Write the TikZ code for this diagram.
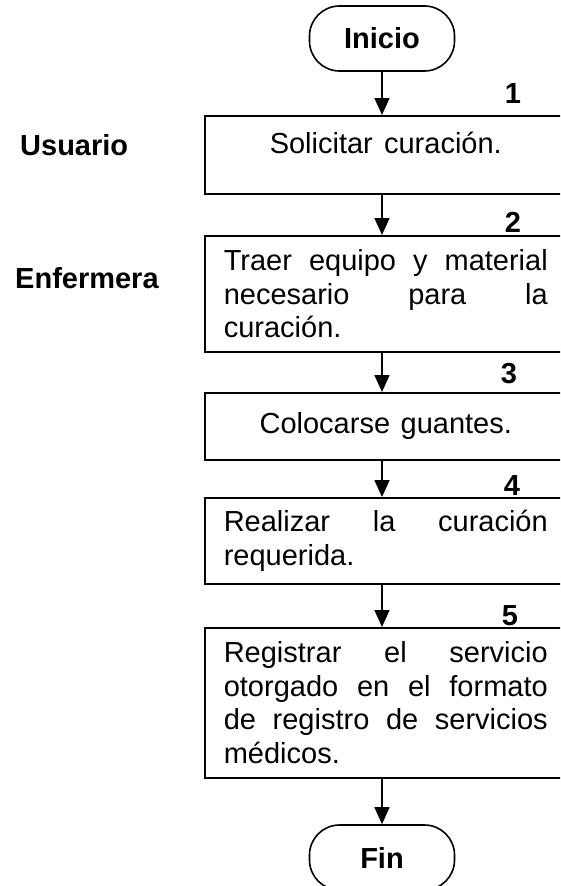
\documentclass[tikz,border=0pt]{standalone}
\usepackage{fontspec}
\setmainfont{Liberation Sans}
\usetikzlibrary{arrows.meta}
\newcommand{\jline}[1]{{\spaceskip=0pt\xspaceskip=0pt\makebox[324pt][s]{#1}}}
\newcommand{\nsp}[1]{{\spaceskip=0pt\xspaceskip=0pt #1}}
\begin{document}
\begin{tikzpicture}[x=1pt,y=-1pt,
  every node/.style={font=\fontsize{29}{33.5}\selectfont},
  term/.style={draw, line width=1.6pt, rounded corners=30pt, minimum width=145pt,
    minimum height=65pt, inner sep=0pt, font=\fontsize{29}{33.5}\selectfont\bfseries},
  box/.style={draw, line width=1.6pt, minimum width=362pt, text width=324pt,
    inner xsep=19pt, inner ysep=0pt, align=left, anchor=north west},
  num/.style={font=\fontsize{29}{33.5}\selectfont\bfseries, anchor=base, inner sep=0pt},
  lane/.style={font=\fontsize{29}{33.5}\selectfont\bfseries, anchor=base west, inner sep=0pt},
  arr/.style={line width=1.6pt, -{Triangle[length=17pt,width=15pt]}}]
\useasboundingbox (0,0) rectangle (560,886);
\clip (0,0) rectangle (560,886);

\node[term] (ini) at (382,38.5) {Inicio};

\node[box, align=center, minimum height=78pt, text depth=24pt] (b1) at (204,115)
  {\nsp{Solicitar curación.}};
\node[box, minimum height=116pt] (b2) at (204,235)
  {\jline{Traer equipo y material}\\ \jline{necesario para la}\\ curación.};
\node[box, align=center, minimum height=67pt] (b3) at (204,392)
  {\nsp{Colocarse guantes.}};
\node[box, minimum height=86pt] (b4) at (204,497)
  {\jline{Realizar la curación}\\ requerida.};
\node[box, minimum height=150pt] (b5) at (204,627)
  {\jline{Registrar el servicio}\\ \jline{otorgado en el formato}\\ \jline{de registro de servicios}\\ médicos.};

\node[term] (fin) at (382,857.5) {Fin};

\node[num] (n1) at (513,103) {1};
\node[num] (n2) at (513,232) {2};
\node[num] (n3) at (509,383) {3};
\node[num] (n4) at (512,495) {4};
\node[num] (n5) at (510,625) {5};

\node[lane] (usr) at (20,155) {Usuario};
\node[lane] (enf) at (15,288) {Enfermera};

\draw[arr] (ini.south) -- (ini.south |- b1.north);
\draw[arr] (ini.south |- b1.south) -- (ini.south |- b2.north);
\draw[arr] (ini.south |- b2.south) -- (ini.south |- b3.north);
\draw[arr] (ini.south |- b3.south) -- (ini.south |- b4.north);
\draw[arr] (ini.south |- b4.south) -- (ini.south |- b5.north);
\draw[arr] (ini.south |- b5.south) -- (fin.north);
\end{tikzpicture}
\end{document}
